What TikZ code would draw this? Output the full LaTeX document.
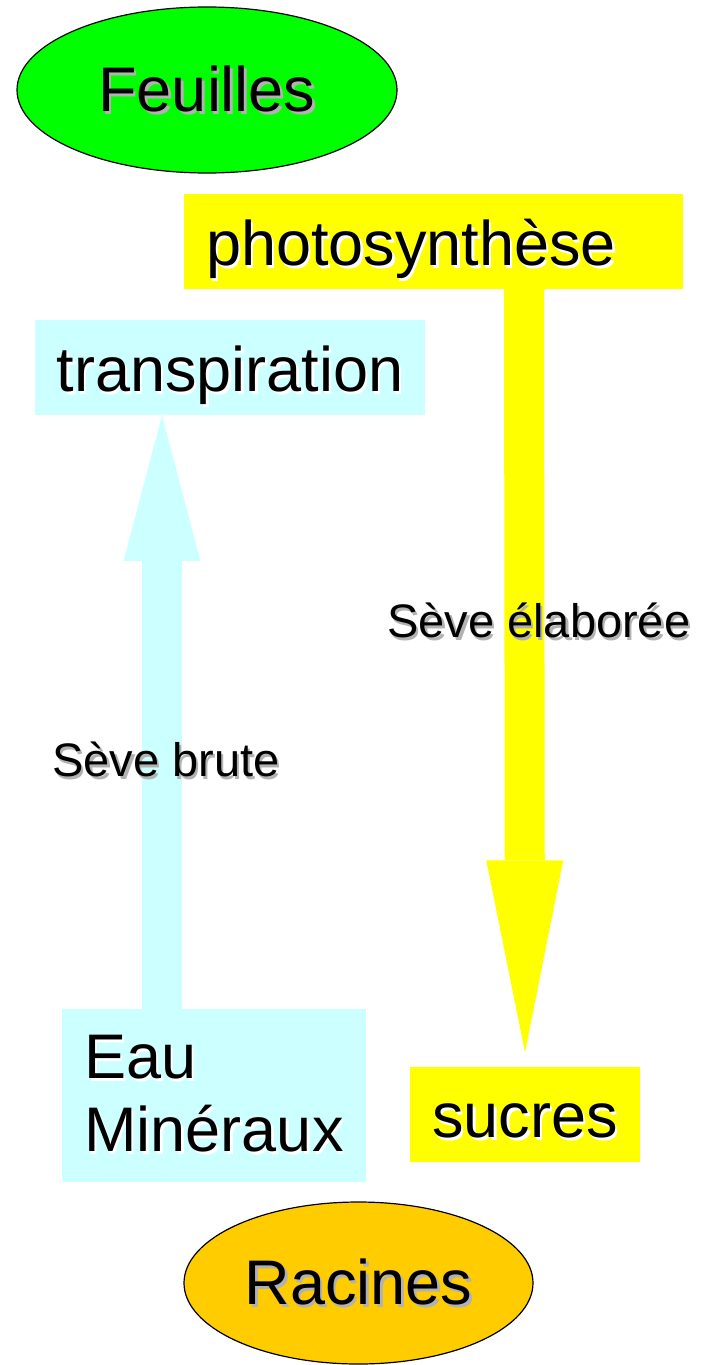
\documentclass[tikz,border=0pt]{standalone}
\usepackage{fontspec}
\setmainfont{Liberation Sans}
\usetikzlibrary{shapes,arrows.meta}
\definecolor{vert}{HTML}{00FF00}
\definecolor{cyanpale}{HTML}{CCFFFF}
\definecolor{jaune}{HTML}{FFFF00}
\definecolor{orangeracine}{HTML}{FFCC00}
\definecolor{ombregris}{HTML}{B2B2B2}
\newcommand{\ombre}[2]{\leavevmode\rlap{\kern2.5pt\raisebox{-3pt}{\color{#1}#2}}#2}

\begin{document}
\begin{tikzpicture}[x=1pt,y=-1pt]
\tikzstyle{every node}+=[inner sep=0pt]
\tikzstyle{organe}=[ellipse,draw=black,line width=1.2pt,font=\fontsize{63}{73}\selectfont]
\tikzstyle{boite}=[rectangle,font=\fontsize{63}{73}\selectfont,align=left,inner xsep=22pt]
\tikzstyle{ligne}=[boite,text height=71pt,text depth=24pt]
\tikzstyle{seve}=[font=\fontsize{47}{55}\selectfont,anchor=base west]
\tikzstyle{fleche}=[line width=40pt]

\useasboundingbox (0,0) rectangle (718,1365);

\node (feuilles) at (207,90) [organe,fill=vert,minimum width=380pt,minimum height=166pt] {\ombre{ombregris}{Feuilles}};
\node (photo) at (433.5,241.5) [ligne,fill=jaune,text width=455pt] {\ombre{white}{photosynthèse}};
\node (transp) at (230,367.5) [ligne,fill=cyanpale] {\ombre{white}{transpiration}};
\node (eau) at (214,1095.5) [boite,fill=cyanpale,minimum height=173pt] {\ombre{white}{Eau}\\\ombre{white}{Minéraux}};
\node (sucres) at (525,1114) [ligne,fill=jaune] {\ombre{white}{sucres}};
\node (racines) at (358.5,1283) [organe,fill=orangeracine,minimum width=349pt,minimum height=162pt] {\ombre{ombregris}{Racines}};

% seve brute : racines -> feuilles
\draw[fleche,cyanpale,-{Triangle[length=146pt,width=77pt,line width=0pt]}] ([xshift=-52pt]eau.north) -- ([xshift=-68pt]transp.south);
% seve elaboree : feuilles -> racines
\draw[fleche,jaune,-{Triangle[length=192pt,width=77pt,line width=0pt]}] ([xshift=90.5pt]photo.south) -- ([yshift=14pt]sucres.north);

\node (brute) at (52,776) [seve] {\ombre{ombregris}{Sève brute}};
\node (elaboree) at (387,637) [seve] {\ombre{ombregris}{Sève élaborée}};
\end{tikzpicture}
\end{document}
